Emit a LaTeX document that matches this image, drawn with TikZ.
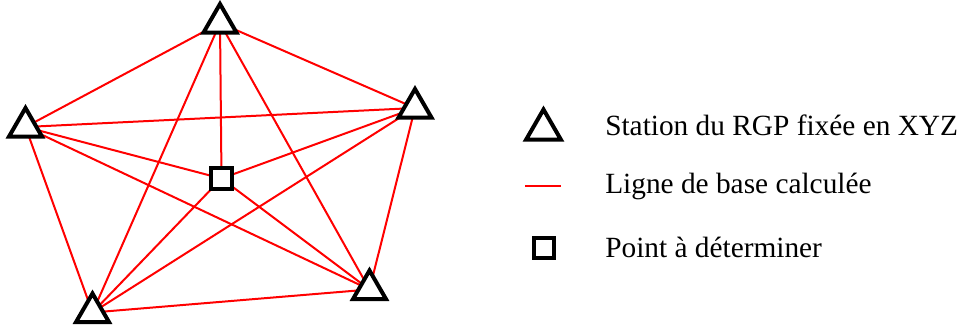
\documentclass[tikz,border=0pt]{standalone}
\usepackage{fontspec}
\setmainfont{Liberation Serif}
\usetikzlibrary{shapes.geometric,backgrounds}
\tikzset{
  station/.style={regular polygon, regular polygon sides=3, draw=black, line width=3pt,
    fill=white, minimum size=28.5pt, inner sep=0pt},
  pointbox/.style={rectangle, draw=black, line width=3pt, fill=white,
    minimum size=15.5pt, inner sep=0pt},
  baseline/.style={draw=red, line width=1.5pt},
  legendtext/.style={anchor=base west, inner sep=0pt, font=\fontsize{22}{26}\selectfont}
}
\begin{document}
\begin{tikzpicture}[x=0.75pt, y=-0.75pt]
\useasboundingbox (0,0) rectangle (967,329);
% stations
\node[station] (T) at (220,23) {};
\node[station] (L) at (25.5,127) {};
\node[station] (R) at (415,108) {};
\node[station] (BL) at (92.5,312.5) {};
\node[station] (BR) at (369.5,289.5) {};
\node[pointbox] (P) at (221.5,178.5) {};
\begin{pgfonlayer}{background}
\foreach \a/\b in {T/L,T/R,T/BL,T/BR,T/P,L/R,L/BL,L/BR,L/P,R/BL,R/BR,R/P,BL/BR,BL/P,BR/P}
  \draw[baseline] (\a.center) -- (\b.center);
\end{pgfonlayer}
% legend
\node[station, minimum size=30pt] (lt) at (543.5,129.5) {};
\coordinate (la) at (525,186);
\coordinate (lb) at (561,186);
\draw[baseline, line width=2.2pt] (la) -- (lb);
\node[pointbox, minimum size=15pt] (lp) at (543.5,248) {};
\node[legendtext] (t1) at (605,135) {Station du RGP fixée en XYZ};
\node[legendtext] (t2) at (605,193) {Ligne de base calculée};
\node[legendtext] (t3) at (605,257) {Point à déterminer};
\end{tikzpicture}
\end{document}
